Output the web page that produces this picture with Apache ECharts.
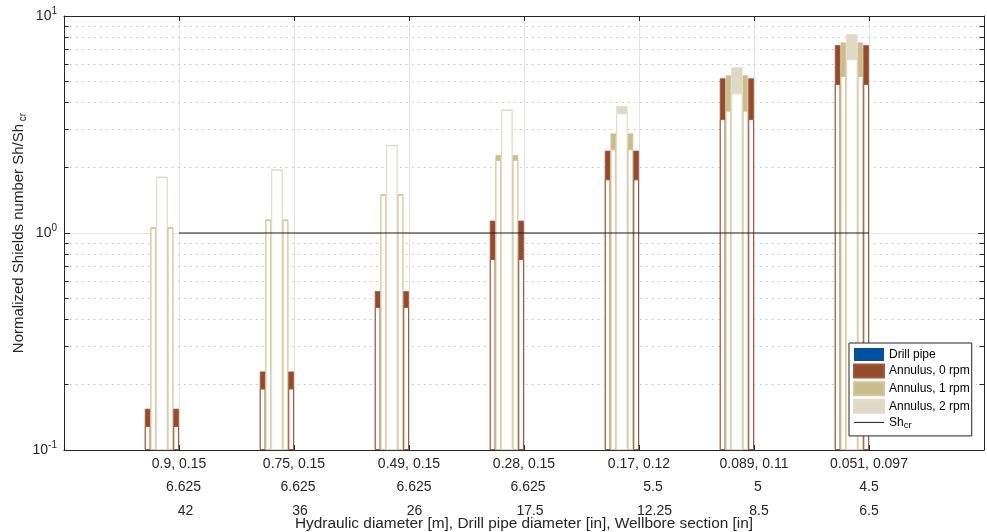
<!DOCTYPE html>
<html><head><meta charset="utf-8">
<script src="https://cdn.jsdelivr.net/npm/echarts@6/dist/echarts.min.js"></script>
<style>html,body{margin:0;padding:0;background:#fff}#c{width:987px;height:532px}</style>
</head><body><div id="c"></div>
<script>
// ---- data ----
const groupX = [1, 2, 3, 4, 5, 6, 7];
const hydLabels = ['0.9, 0.15', '0.75, 0.15', '0.49, 0.15', '0.28, 0.15', '0.17, 0.12', '0.089, 0.11', '0.051, 0.097'];
const pipeLabels = ['6.625', '6.625', '6.625', '6.625', '5.5', '5', '4.5'];
const wellLabels = ['42', '36', '26', '17.5', '12.25', '8.5', '6.5'];
// range bars: lower / upper Sh/Sh_cr
const rpm0Low  = [0.129, 0.192, 0.456, 0.759, 1.767, 3.35, 4.86];
const rpm0High = [0.155, 0.230, 0.540, 1.14, 2.395, 5.16, 7.35];
const rpm1Low  = [1.055, 1.145, 1.50, 2.17, 2.43, 3.66, 5.29];
const rpm1High = [1.065, 1.155, 1.51, 2.29, 2.88, 5.33, 7.56];
const rpm2Low  = [1.81, 1.955, 2.54, 3.69, 3.56, 4.40, 6.34];
const rpm2High = [1.82, 1.965, 2.55, 3.71, 3.85, 5.80, 8.23];
const drillPipe = [null, null, null, null, null, null, null];
const shcrX = [1, 7];
const shcrY = [1, 1];
const yMinor = [0.2, 0.3, 0.4, 0.5, 0.6, 0.7, 0.8, 0.9, 2, 3, 4, 5, 6, 7, 8, 9];
const legendNames = ['Drill pipe', 'Annulus, 0 rpm', 'Annulus, 1 rpm', 'Annulus, 2 rpm', 'Sh_cr'];

// ---- styles ----
const C = {
  dp: '#00519f',
  r0: '#934b2e', r0e: '#a2583c',
  r1: '#cbbd8b', r1e: '#d3c69c',
  r2: '#e0d9c6', r2e: '#e2dbc9'
};
const FONT = '"Liberation Sans", Arial, Helvetica, sans-serif';
const SW = 5.7;
// horizontal nudge (px) of the 2nd / 3rd tick-label rows, as in the original figure
const rowNudge = [[4.5, 6.5], [4, 6], [5, 5.5], [4, 6], [14, 15.5], [4, 5], [0, 0]];

const tickRich = { a: { fontSize: 14, lineHeight: 23.5, color: '#262626', fontFamily: FONT, align: 'center' } };
rowNudge.forEach((r, i) => {
  tickRich['b' + i] = { fontSize: 14, lineHeight: 23.5, color: '#262626', fontFamily: FONT, align: 'center', padding: [0, 0, 0, 2 * r[0]] };
  tickRich['c' + i] = { fontSize: 14, lineHeight: 23.5, color: '#262626', fontFamily: FONT, align: 'center', padding: [0, 0, 0, 2 * r[1]] };
});

// each column: full coloured bar up to the upper value, white bar (coloured edge) up to the lower value drawn over it
function rangeSeries(col, low, high, name, fill, edge, width) {
  return [
    { type: 'bar', name: name, stack: col, barWidth: width, barGap: 0, z: 10,
      data: groupX.map((x, i) => [x, high[i]]),
      itemStyle: { color: fill, borderColor: edge, borderWidth: 0.8 } },
    { type: 'bar', name: name + ' low', stack: col, barWidth: width, barGap: 0, z: 10,
      data: groupX.map((x, i) => [x, low[i]]),
      itemStyle: { color: '#ffffff', borderColor: edge, borderWidth: 1 } }
  ];
}

const series = [].concat(
  rangeSeries('b0L', rpm0Low, rpm0High, 'Annulus, 0 rpm', C.r0, C.r0e, SW),
  rangeSeries('b1L', rpm1Low, rpm1High, 'Annulus, 1 rpm', C.r1, C.r1e, SW),
  rangeSeries('b2',  rpm2Low, rpm2High, 'Annulus, 2 rpm', C.r2, C.r2e, 2 * SW),
  rangeSeries('b1R', rpm1Low, rpm1High, 'Annulus, 1 rpm', C.r1, C.r1e, SW),
  rangeSeries('b0R', rpm0Low, rpm0High, 'Annulus, 0 rpm', C.r0, C.r0e, SW),
  [{ type: 'bar', name: 'Drill pipe', stack: 'dp', barWidth: 6 * SW, barGap: 0, z: 10,
     data: groupX.map((x, i) => [x, drillPipe[i]]),
     itemStyle: { color: C.dp } },
   { type: 'line', name: 'Sh_cr', xAxisIndex: 0, yAxisIndex: 0, z: 15,
     data: shcrX.map((x, i) => [x, shcrY[i]]), symbol: 'none',
     lineStyle: { color: '#1a1a1a', width: 1 }, itemStyle: { color: '#1a1a1a' } },
   { type: 'line', name: 'grid', data: [], silent: true, z: 1,
     markLine: { silent: true, symbol: ['none', 'none'], label: { show: false }, animation: false,
       lineStyle: { color: '#c4c4c4', type: [1.5, 4.5], width: 1 },
       data: yMinor.map(v => ({ yAxis: v })) } },
   { type: 'line', name: 'ticks', data: [], silent: true, z: 1,
     markLine: { silent: true, symbol: ['none', 'none'], label: { show: false }, animation: false,
       lineStyle: { color: '#262626', type: 'solid', width: 1 },
       data: yMinor.map(v => [{ coord: [0, v] }, { coord: [0.04, v] }])
         .concat(yMinor.map(v => [{ coord: [7.96, v] }, { coord: [8, v] }])) } }]
);

const chart = echarts.init(document.getElementById('c'), null, { renderer: 'canvas' });
chart.setOption({
  animation: false,
  backgroundColor: '#ffffff',
  textStyle: { fontFamily: FONT },
  grid: { left: 64, top: 16, right: 3, bottom: 82, containLabel: false, outerBoundsMode: 'none' },
  legend: {
    data: legendNames.map(n => n === 'Sh_cr' ? { name: n, icon: 'path://M0,0 H30 V1 H0 Z' } : { name: n, icon: 'rect' }),
    orient: 'vertical', left: 849, top: 343, z: 30,
    padding: [5, 2, 6, 4], itemWidth: 30, itemHeight: 13, itemGap: 2.6,
    borderColor: '#262626', borderWidth: 1, backgroundColor: '#ffffff',
    formatter: n => n === 'Sh_cr' ? '{n|Sh}{s|cr}' : n,
    textStyle: { fontSize: 12, color: '#000', fontFamily: FONT,
      rich: { n: { fontSize: 12, fontFamily: FONT, color: '#000' },
              s: { fontSize: 9.5, fontFamily: FONT, color: '#000', padding: [5, 0, 0, 0] } } }
  },
  xAxis: [
    { type: 'value', min: 0, max: 8, interval: 1, position: 'bottom',
      name: 'Hydraulic diameter [m], Drill pipe diameter [in], Wellbore section [in]',
      nameLocation: 'middle', nameGap: 66, nameMoveOverlap: false,
      nameTextStyle: { fontSize: 15.4, color: '#262626', fontFamily: FONT },
      axisLine: { show: true, onZero: false, lineStyle: { color: '#262626' } },
      axisTick: { show: true, inside: true, length: 5, lineStyle: { color: '#262626' } },
      splitLine: { show: true, lineStyle: { color: '#e3e3e3', width: 1 } },
      axisLabel: { fontSize: 14, color: '#262626', lineHeight: 23.5, margin: 2, fontFamily: FONT,
        rich: tickRich,
        formatter: v => {
          const i = groupX.indexOf(v);
          return i < 0 ? '' : '{a|' + hydLabels[i] + '}\n{b' + i + '|' + pipeLabels[i] + '}\n{c' + i + '|' + wellLabels[i] + '}';
        } } },
    { type: 'value', min: 0, max: 8, interval: 1, position: 'top',
      axisLine: { show: true, onZero: false, lineStyle: { color: '#262626' } },
      axisTick: { show: true, inside: true, length: 5, lineStyle: { color: '#262626' } },
      axisLabel: { show: false }, splitLine: { show: false } }
  ],
  yAxis: [
    { type: 'log', logBase: 10, min: 0.1, max: 10, startValue: 0.1, position: 'left',
      name: '{a|Normalized Shields number Sh/Sh}{s| cr}', nameLocation: 'middle', nameGap: 36, nameRotate: 90,
      nameMoveOverlap: false,
      nameTextStyle: { color: '#262626', fontFamily: FONT,
        rich: { a: { fontSize: 15, color: '#262626', fontFamily: FONT }, s: { fontSize: 10, color: '#262626', fontFamily: FONT, padding: [9, 0, 0, 0] } } },
      axisLine: { show: true, onZero: false, lineStyle: { color: '#262626' } },
      axisTick: { show: true, inside: true, length: 6, lineStyle: { color: '#262626' } },
      splitLine: { show: true, lineStyle: { color: '#e3e3e3', width: 1 } },
      axisLabel: { margin: 7, color: '#262626', fontFamily: FONT,
        formatter: v => '{b|10}{e|' + Math.round(Math.log10(v)) + '}',
        rich: { b: { fontSize: 14, color: '#262626', fontFamily: FONT }, e: { fontSize: 10, color: '#262626', fontFamily: FONT, padding: [0, 0, 9, 0] } } } },
    { type: 'log', logBase: 10, min: 0.1, max: 10, position: 'right',
      axisLine: { show: true, onZero: false, lineStyle: { color: '#262626' } },
      axisTick: { show: true, inside: true, length: 6, lineStyle: { color: '#262626' } },
      axisLabel: { show: false }, splitLine: { show: false } }
  ],
  series: series
});
</script>
</body></html>
